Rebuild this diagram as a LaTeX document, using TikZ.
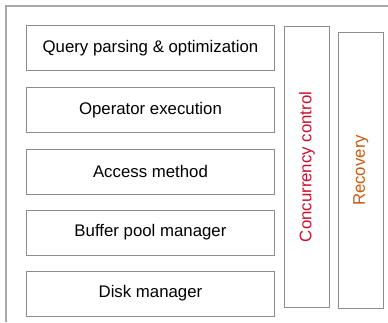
\documentclass[tikz,border=0pt]{standalone}
\usepackage{fontspec}
\setmainfont{Liberation Sans}
\usetikzlibrary{positioning}
\definecolor{dbFrame}{HTML}{A8A8A8}
\definecolor{dbLine}{HTML}{8C8C8C}
\definecolor{dbCC}{HTML}{C8102E}
\definecolor{dbRec}{HTML}{C85A14}
\tikzset{
  layer/.style={
    draw=dbLine, minimum width=248pt, minimum height=45pt,
    font=\fontsize{16.8}{20}\selectfont, inner sep=0pt, line width=0.9pt
  },
  sidebox/.style={
    draw=dbLine, minimum width=45pt, inner sep=0pt, line width=0.9pt
  },
  sidetext/.style={rotate=90, font=\fontsize{16.8}{20}\selectfont},
  frame/.style={draw=dbFrame, line width=1.4pt}
}
\begin{document}
\begin{tikzpicture}[x=1pt, y=-1pt]
  \useasboundingbox (0,0) rectangle (388,322);
  % outer frame
  \draw[frame] (6,322) -- (6,6) -- (388,6);
  % layers
  \node[layer, anchor=north west] (qp) at (26,25) {Query parsing \& optimization};
  \node[layer, below=16pt of qp] (opx) {Operator execution};
  \node[layer, below=16pt of opx] (am) {Access method};
  \node[layer, below=15pt of am] (bpm) {Buffer pool manager};
  \node[layer, below=15pt of bpm] (dm) {Disk manager};
  % side boxes
  \node[sidebox, minimum height=281pt, anchor=north west] (cc) at (284,26) {};
  \node[sidetext, text=dbCC] (cclbl) at (cc.center) {Concurrency control};
  \node[sidebox, minimum height=276pt, anchor=north west] (rec) at (338,32) {};
  \node[sidetext, text=dbRec] (reclbl) at (rec.center) {Recovery};
\end{tikzpicture}
\end{document}
